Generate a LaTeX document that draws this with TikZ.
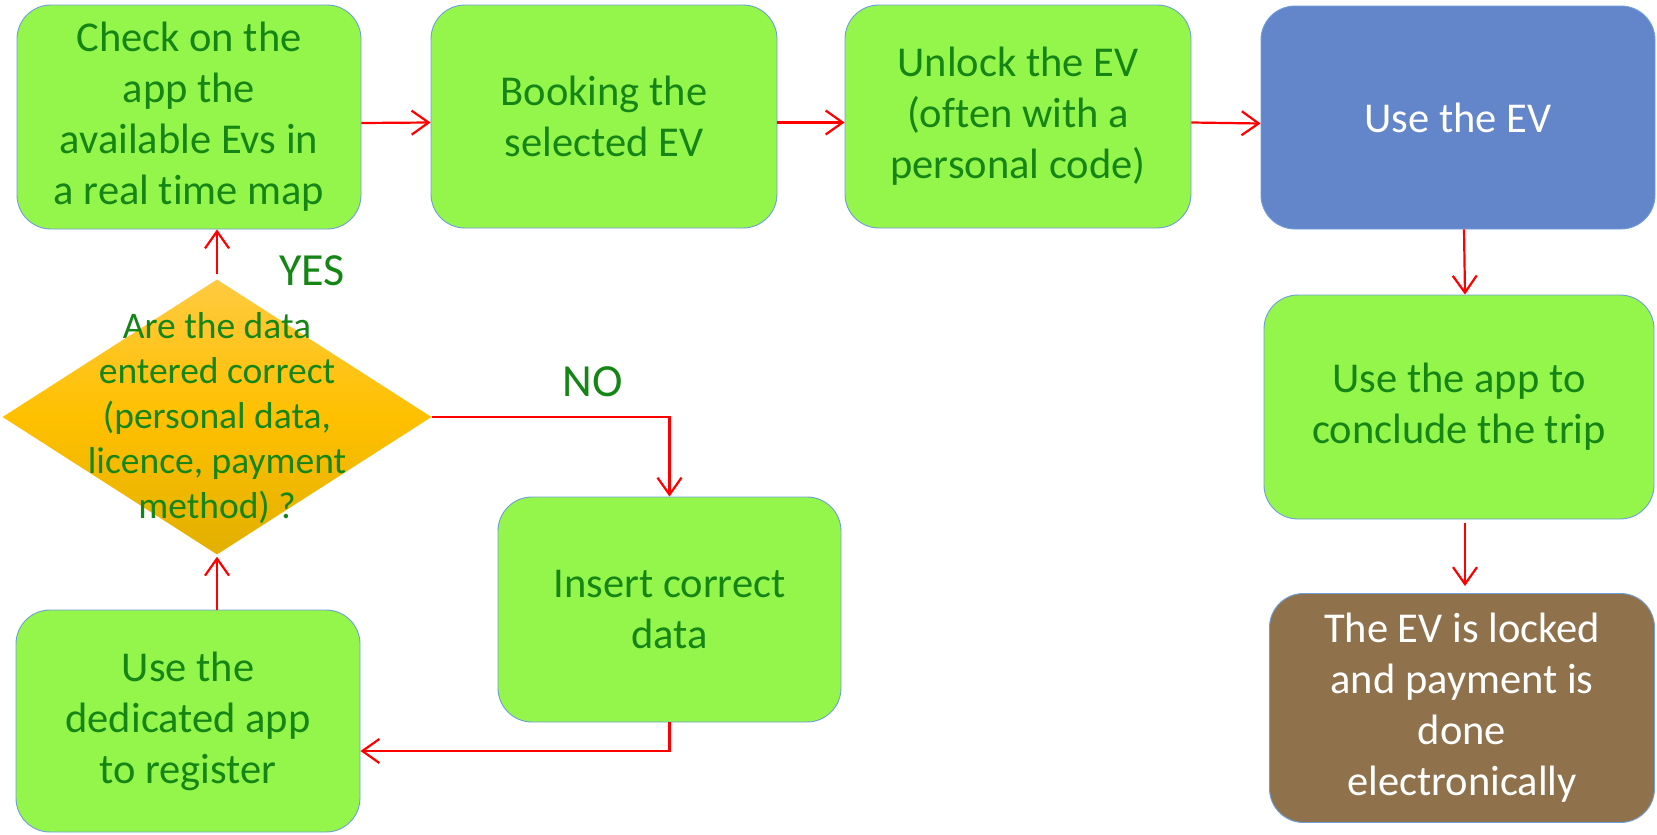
\documentclass[tikz,border=0pt]{standalone}
\usepackage{fontspec}
\setmainfont{Carlito}[Ligatures=NoCommon]
\usetikzlibrary{arrows.meta,shapes.geometric}
\definecolor{boxgreen}{HTML}{94F54B}
\definecolor{txtgreen}{HTML}{158515}
\definecolor{boxblue}{HTML}{6385C9}
\definecolor{boxbrown}{HTML}{8F714B}
\definecolor{edgeblue}{HTML}{6F9FD8}
\definecolor{goldtop}{HTML}{FFCA40}
\definecolor{goldmid}{HTML}{FFC000}
\definecolor{goldbot}{HTML}{E2B000}
\tikzset{
  stepbox/.style={rectangle, rounded corners=34pt, draw=edgeblue, line width=0.9pt,
    fill=boxgreen, text=txtgreen, align=center, inner sep=0pt,
    font=\fontsize{42.5}{51}\selectfont},
  bluebox/.style={stepbox, fill=boxblue, text=white},
  brownbox/.style={stepbox, fill=boxbrown, text=white},
  flow/.style={draw=red, line width=2.2pt, -{Straight Barb[length=17pt,width=24pt,line width=2.2pt]}},
  answer/.style={text=txtgreen, font=\fontsize{46}{55}\selectfont, inner sep=0pt},
}
\begin{document}
\begin{tikzpicture}[x=1pt,y=-1pt]
\useasboundingbox[fill=white] (0,0) rectangle (1657,835);
% boxes
\node[stepbox, minimum width=344pt, minimum height=224pt] (b1) at (189,117)
  {Check on the\\app the\\available Evs in\\a real time map};
\node[stepbox, minimum width=346pt, minimum height=223pt] (b2) at (604,116.5)
  {Booking the\\selected EV};
\node[stepbox, minimum width=346pt, minimum height=223pt] (b3) at (1018,116.5)
  {Unlock the EV\\(often with a\\personal code)};
\node[bluebox, minimum width=394pt, minimum height=223pt] (b4) at (1458,117.5)
  {Use the EV};
\node[stepbox, minimum width=390pt, minimum height=224pt] (b5) at (1459,407)
  {Use the app to\\conclude the trip};
\node[brownbox, minimum width=385pt, minimum height=229pt] (b6) at (1462,708)
  {The EV is locked\\and payment is\\done\\electronically};
\node[stepbox, minimum width=344pt, minimum height=222pt] (b7) at (188,721)
  {Use the\\dedicated app\\to register};
\node[stepbox, minimum width=343pt, minimum height=225pt] (b8) at (669.5,609.5)
  {Insert correct\\data};
% decision
\node[diamond, minimum width=429pt, minimum height=275pt, inner sep=0pt,
  top color=goldtop, bottom color=goldbot, middle color=goldmid] (dec) at (217,417) {};
\node[text=txtgreen, align=center, inner sep=0pt, font=\fontsize{37.5}{45}\selectfont]
  (dectext) at (217,418)
  {Are the data\\entered correct\\(personal data,\\licence, payment\\method) ?};
% labels
\node[answer] (yes) at (312,271) {YES};
\node[answer] (no) at (593,382) {NO};
% connectors
\draw[flow] ([yshift=-6pt]b1.east) -- ([yshift=-6pt]b2.west);
\draw[flow] ([yshift=-6pt]b2.east) -- ([yshift=-6pt]b3.west);
\draw[flow] ([yshift=-6pt]b3.east) -- ([yshift=-6pt]b4.west);
\draw[flow] ([xshift=6pt]b4.south) -- ([xshift=6pt]b5.north);
\draw[flow, shorten <=4pt, shorten >=7pt] ([xshift=6pt]b5.south) -- ([xshift=3pt]b6.north);
\draw[flow, shorten <=5pt] (dec.north) -- (dec.north |- b1.south);
\draw[flow, shorten >=2pt] (b7.north -| dec.south) -- (dec.south);
\draw[flow] (dec.east) -- (b8.north |- dec.east) -- (b8.north);
\coordinate (turn) at (669.5,751);
\draw[flow] (b8.south) |- (turn -| b7.east);
\end{tikzpicture}
\end{document}
